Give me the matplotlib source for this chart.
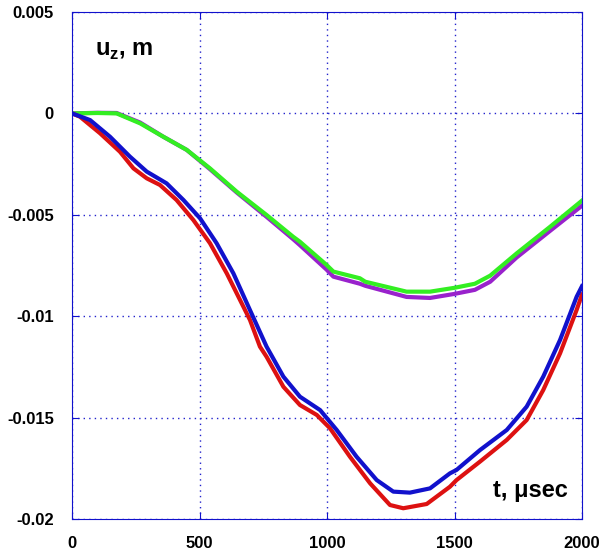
import matplotlib.pyplot as plt

# time, microseconds / displacement, m
t_red = [0, 31, 110, 188, 241, 293, 345, 410, 476, 541, 607, 672, 698, 737, 763,
         829, 894, 960, 1012, 1090, 1169, 1247, 1299, 1391, 1482, 1508, 1600,
         1705, 1783, 1848, 1914, 1979, 2000]
u_red = [0, -0.00016, -0.00098, -0.00189, -0.00271, -0.0032, -0.00353, -0.00427,
         -0.00526, -0.0064, -0.00789, -0.00953, -0.01019, -0.0115, -0.012,
         -0.01348, -0.01438, -0.01487, -0.01553, -0.01693, -0.01824, -0.01931,
         -0.01947, -0.01926, -0.01841, -0.01808, -0.01717, -0.0161, -0.01512,
         -0.01364, -0.01183, -0.00969, -0.00893]

t_blue = [0, 71, 149, 227, 293, 371, 437, 502, 567, 633, 698, 763, 829, 894, 973,
          1038, 1116, 1195, 1260, 1325, 1404, 1482, 1508, 1600, 1705, 1783, 1848,
          1914, 1979, 2000]
u_blue = [0, -0.00033, -0.00115, -0.00213, -0.00287, -0.00345, -0.00427, -0.00517,
          -0.0064, -0.00789, -0.0097, -0.0115, -0.01298, -0.01397, -0.01463,
          -0.01561, -0.01693, -0.01808, -0.01865, -0.0187, -0.01849, -0.01775,
          -0.01758, -0.0166, -0.01561, -0.01446, -0.01298, -0.01117, -0.00904,
          -0.00852]

t_top = [0, 100, 175, 267, 358, 450, 541, 646, 763, 867, 894, 998, 1025, 1129,
         1150, 1312, 1404, 1500, 1580, 1640, 1744, 1874, 2000]
u_green = [0, 0.00002, 0, -0.00049, -0.00115, -0.0018, -0.00271, -0.00386,
           -0.00501, -0.00608, -0.00633, -0.00747, -0.0078, -0.00813, -0.0083,
           -0.00879, -0.00879, -0.0086, -0.0084, -0.0080, -0.0069, -0.0056,
           -0.0043]
u_purple = [0, 0.00003, 0.00002, -0.00045, -0.00115, -0.0018, -0.00275, -0.0039,
            -0.0051, -0.0062, -0.0065, -0.0077, -0.00805, -0.0084, -0.0085,
            -0.00905, -0.0091, -0.0089, -0.0087, -0.0083, -0.0071, -0.0058,
            -0.00455]

plt.rcParams['font.family'] = ['Liberation Sans', 'DejaVu Sans']

fig = plt.figure(figsize=(6.12, 5.54), dpi=100)
ax = fig.add_axes([72 / 612, 1 - 519 / 554, 510 / 612, 507 / 554])

ax.plot(t_top, u_purple, color='#9922cc', lw=3)
ax.plot(t_top, u_green, color='#33ee22', lw=3)
ax.plot(t_red, u_red, color='#dd1111', lw=3)
ax.plot(t_blue, u_blue, color='#1111cc', lw=3)

ax.set_xlim(0, 2000)
ax.set_ylim(-0.02, 0.005)
ax.set_xticks([0, 500, 1000, 1500, 2000])
ax.set_yticks([0.005, 0, -0.005, -0.01, -0.015, -0.02])
ax.set_yticklabels(['0.005', '0', '-0.005', '-0.01', '-0.015', '-0.02'])
ax.grid(True, color='#2222cc', linestyle=(0, (1, 3)), lw=1)
for s in ax.spines.values():
    s.set_color('#1111cc')
ax.tick_params(direction='in', length=5, color='#1111cc', top=True, right=True,
               labelsize=12)
ax.tick_params(axis='x', pad=12)
ax.tick_params(axis='y', pad=13)
for lab in ax.get_xticklabels() + ax.get_yticklabels():
    lab.set_fontweight('bold')

ax.text(0.045, 0.925, r'u$_{\mathregular{z}}$, m', transform=ax.transAxes,
        fontsize=17, fontweight='bold', va='center')
ax.text(0.825, 0.057, u't, \u03bcsec', transform=ax.transAxes,
        fontsize=17, fontweight='bold', va='center')

plt.savefig('out.png')
